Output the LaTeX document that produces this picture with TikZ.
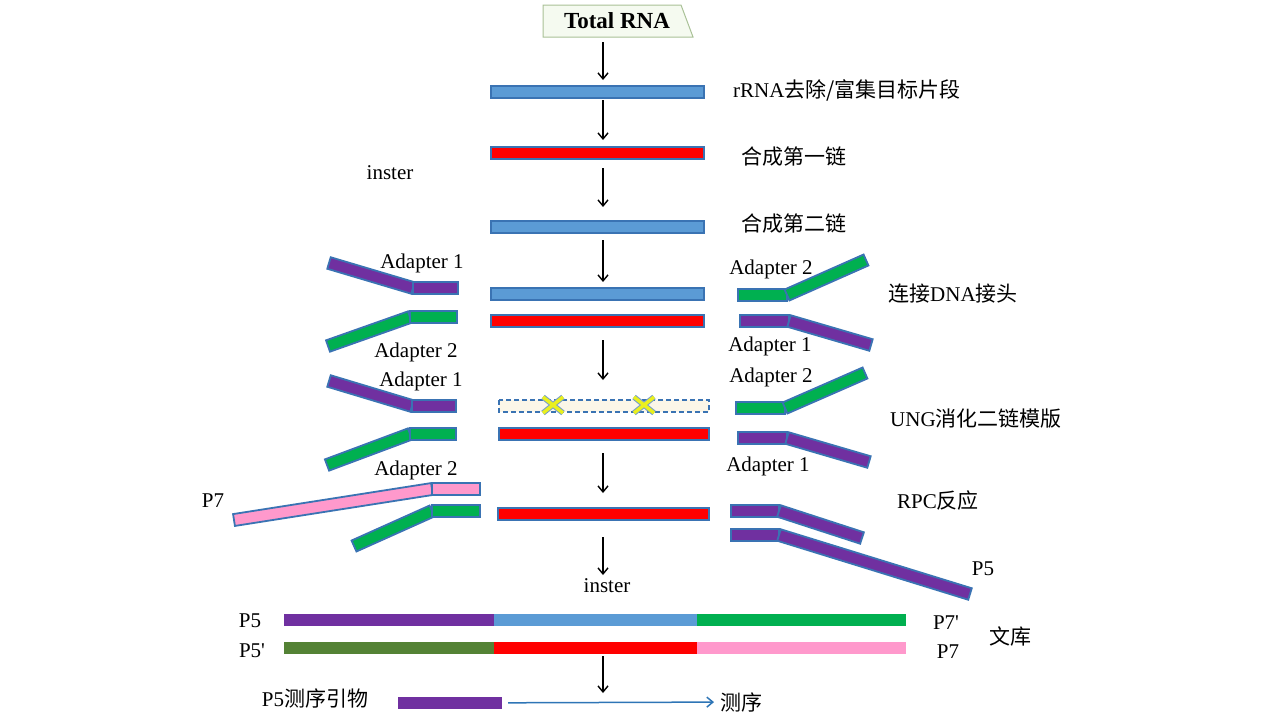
\documentclass[tikz,border=0pt]{standalone}
\usepackage{fontspec}
\setmainfont{Liberation Serif}
\newfontfamily\cjk{Noto Sans CJK SC}
\usepackage{xcolor}
\usetikzlibrary{positioning,calc,arrows.meta}

\definecolor{rnablue}{HTML}{5B9BD5}
\definecolor{edge}{HTML}{3A73B3}
\definecolor{adpurple}{HTML}{7030A0}
\definecolor{adgreen}{HTML}{00B050}
\definecolor{adpink}{HTML}{FF99CC}
\definecolor{libolive}{HTML}{548235}
\definecolor{boxedge}{HTML}{A9C196}
\definecolor{boxfill}{HTML}{F5FAF0}
\definecolor{ungfill}{HTML}{FBF6E8}
\definecolor{xyellow}{HTML}{EAF01E}
\definecolor{seqblue}{HTML}{2E75B6}

\tikzset{
  bar/.style={draw=edge, line width=1.8pt, line join=miter},
  lab/.style={font=\fontsize{21}{25}\selectfont, inner sep=0pt},
  arr/.style={-{Straight Barb[length=6pt,width=10pt]}, line width=1.4pt},
}

\newcommand{\strand}[3]{%
  \draw[bar,fill=#3] ($(#1)!6pt!90:(#2)$) -- ($(#2)!6pt!-90:(#1)$)
    -- ($(#2)!6pt!90:(#1)$) -- ($(#1)!6pt!-90:(#2)$) -- cycle;}

\begin{document}
\begin{tikzpicture}[x=1pt,y=-1pt]
\useasboundingbox (0,0) rectangle (1267,713);

\draw[draw=boxedge, fill=boxfill, line width=1pt] (543,5) -- (681,5) -- (693,37) -- (543,37) -- cycle;
\node[font=\bfseries\fontsize{23}{26}\selectfont, inner sep=0pt] (total) at (617,21) {Total RNA};

\foreach \ya/\yb in {42/80,100/140,168/207,240/282,340/380,453/493,537/575,656/693}
  \draw[arr] (603,\ya) -- (603,\yb);

\strand{491,92}{704,92}{rnablue}
\strand{491,153}{704,153}{red}
\strand{491,227}{704,227}{rnablue}
\node[lab, anchor=west] (rrna) at (733,90) {rRNA{\cjk 去除/富集目标片段}};
\node[lab, anchor=west] (first) at (741,157) {\cjk 合成第一链};
\node[lab] (inster1) at (390,173) {inster};
\node[lab, anchor=west] (second) at (741,224) {\cjk 合成第二链};

\strand{491,294}{704,294}{rnablue}
\strand{491,321}{704,321}{red}
\strand{329,263}{413,288}{adpurple}
\strand{413,288}{458,288}{adpurple}
\strand{328,346}{410,317}{adgreen}
\strand{410,317}{457,317}{adgreen}
\strand{738,295}{787,295}{adgreen}
\strand{787,295}{866,260}{adgreen}
\strand{740,321}{789,321}{adpurple}
\strand{789,321}{871,345}{adpurple}
\node[lab] (ad1a) at (422,263) {Adapter 1};
\node[lab] (ad2a) at (416,352) {Adapter 2};
\node[lab] (ad2b) at (771,269) {Adapter 2};
\node[lab] (ad1b) at (770,346) {Adapter 1};
\node[lab, anchor=west] (ligate) at (888,294) {{\cjk 连接}DNA{\cjk 接头}};

\draw[dash pattern=on 5pt off 3pt, draw=edge, line width=1.4pt, fill=ungfill] (499,400) rectangle (709,412);
\foreach \cx in {553,644} {
  \draw[line width=5.5pt, draw=edge!70] (\cx-10,397) -- (\cx+10,413) (\cx-10,413) -- (\cx+10,397);
  \draw[line width=3.5pt, draw=xyellow] (\cx-10,397) -- (\cx+10,413) (\cx-10,413) -- (\cx+10,397);
}
\strand{499,434}{709,434}{red}
\strand{329,381}{412,406}{adpurple}
\strand{412,406}{456,406}{adpurple}
\strand{327,465}{410,434}{adgreen}
\strand{410,434}{456,434}{adgreen}
\strand{736,408}{785,408}{adgreen}
\strand{785,408}{865,373}{adgreen}
\strand{738,438}{787,438}{adpurple}
\strand{787,438}{869,462}{adpurple}
\node[lab] (ad1c) at (421,381) {Adapter 1};
\node[lab] (ad2c) at (771,377) {Adapter 2};
\node[lab] (ad2d) at (416,470) {Adapter 2};
\node[lab] (ad1d) at (768,466) {Adapter 1};
\node[lab, anchor=west] (ung) at (890,419) {UNG{\cjk 消化二链模版}};

\strand{498,514}{709,514}{red}
\strand{234,520}{432,489}{adpink}
\strand{432,489}{480,489}{adpink}
\strand{354,546}{432,511}{adgreen}
\strand{432,511}{480,511}{adgreen}
\strand{731,511}{779,511}{adpurple}
\strand{779,511}{862,538}{adpurple}
\strand{731,535}{779,535}{adpurple}
\strand{779,535}{970,594}{adpurple}
\node[lab] (p7a) at (213,501) {P7};
\node[lab] (p5a) at (983,569) {P5};
\node[lab, anchor=west] (rpc) at (897,501) {RPC{\cjk 反应}};
\node[lab] (inster2) at (607,586) {inster};

\fill[adpurple] (284,614) rectangle (494,626);
\fill[rnablue] (494,614) rectangle (697,626);
\fill[adgreen] (697,614) rectangle (906,626);
\fill[libolive] (284,642) rectangle (494,654);
\fill[red] (494,642) rectangle (697,654);
\fill[adpink] (697,642) rectangle (906,654);
\node[lab] (p5b) at (250,621) {P5};
\node[lab] (p5c) at (252,651) {P5\textquotesingle};
\node[lab] (p7b) at (946,623) {P7\textquotesingle};
\node[lab] (p7c) at (948,652) {P7};
\node[lab] (lib) at (1010,636) {\cjk 文库};

\node[fill=adpurple, minimum width=104pt, minimum height=12pt, inner sep=0pt] (primer) at (450,703) {};
\node[lab] (plab) at (315,698) {P5{\cjk 测序引物}};
\node[lab, anchor=west] (seq) at (720,702) {\cjk 测序};
\draw[-{Straight Barb[length=6pt,width=10pt]}, line width=1.5pt, seqblue, shorten <=6pt, shorten >=6pt] (primer) -- (seq);
\end{tikzpicture}
\end{document}
